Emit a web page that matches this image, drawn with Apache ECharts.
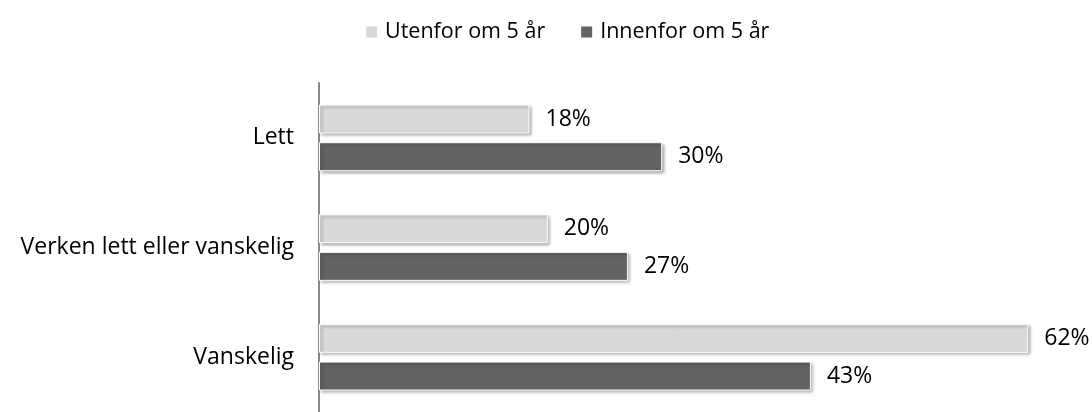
<!DOCTYPE html>
<html><head><meta charset="utf-8">
<script src="https://cdn.jsdelivr.net/npm/echarts@6/dist/echarts.min.js"></script>
<style>html,body{margin:0;padding:0;background:#fff}#c{width:1092px;height:412px}</style>
</head><body><div id="c"></div>
<script>
const categories = ['Lett', 'Verken lett eller vanskelig', 'Vanskelig'];
const seriesNames = ['Utenfor om 5 år', 'Innenfor om 5 år'];
const utenfor = [18.4, 20, 62];
const innenfor = [30, 27, 43];

const font = '"Open Sans", sans-serif';
const fs = 23;
const chart = echarts.init(document.getElementById('c'));
const shadow = {shadowColor: 'rgba(0,0,0,0.35)', shadowBlur: 3, shadowOffsetX: 2, shadowOffsetY: 2};
const fmt = p => Math.round(p.value) + '%';
chart.setOption({
  animation: false,
  legend: {
    top: 16, left: 359, itemWidth: 13, itemHeight: 13, itemGap: 34,
    icon: 'rect',
    textStyle: {fontFamily: font, fontSize: 21.5, color: '#000', padding: [0, 0, 0, 2]},
    data: seriesNames
  },
  grid: {left: 319, top: 83, width: 743.6, height: 337, containLabel: false},
  xAxis: {type: 'value', min: 0, max: 65, show: false},
  yAxis: {
    type: 'category', data: categories, inverse: true,
    axisLine: {show: true, lineStyle: {color: '#8a8a8a', width: 2}},
    axisTick: {show: false},
    axisLabel: {fontFamily: font, fontSize: fs, color: '#000', margin: 25}
  },
  series: [
    {name: seriesNames[0], type: 'bar', data: utenfor, barWidth: 29, barGap: '30%',
     itemStyle: Object.assign({color: '#d9d9d9', borderColor: '#fff', borderWidth: 1}, shadow),
     label: {show: true, position: 'right', distance: 16, formatter: fmt, fontFamily: font, fontSize: fs, color: '#000'}},
    {name: seriesNames[1], type: 'bar', data: innenfor, barWidth: 29,
     itemStyle: Object.assign({color: '#636363', borderColor: '#fff', borderWidth: 1}, shadow),
     label: {show: true, position: 'right', distance: 16, formatter: fmt, fontFamily: font, fontSize: fs, color: '#000'}}
  ]
});
</script></body></html>
